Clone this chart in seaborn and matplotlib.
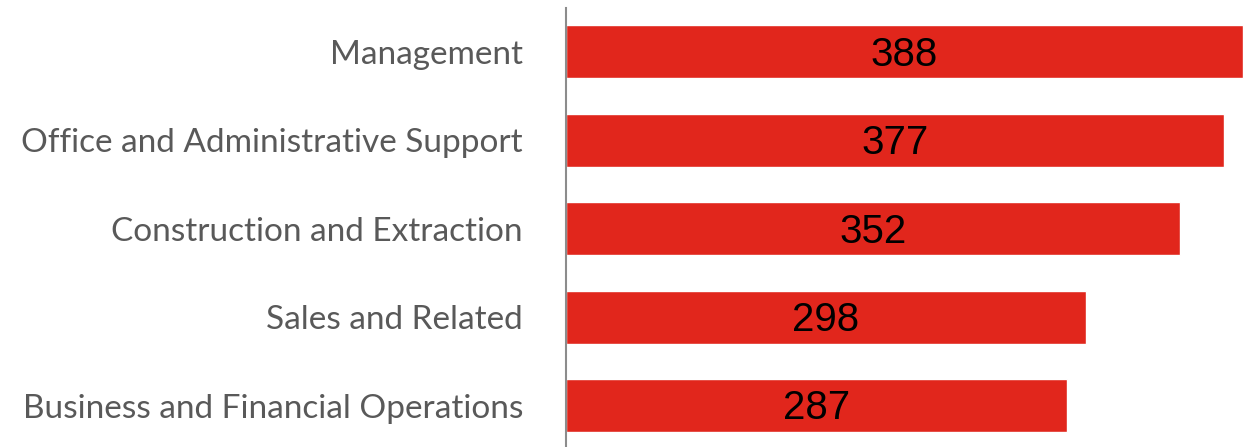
import pandas as pd
import seaborn as sns
import matplotlib.pyplot as plt

# Chart data
categories = ['Management', 'Office and Administrative Support', 'Construction and Extraction',
              'Sales and Related', 'Business and Financial Operations']
values = [388, 377, 352, 298, 287]

df = pd.DataFrame({'category': categories, 'value': values})

sns.set_style('white')
plt.rcParams['font.family'] = ['Lato', 'DejaVu Sans']

fig = plt.figure(figsize=(12.58, 4.47), dpi=100)
ax = fig.add_axes([566 / 1258, -0.0067, 1 - 566 / 1258, 0.9895])

sns.barplot(data=df, x='value', y='category', orient='h', color='#E1261C',
            width=0.6, saturation=1, ax=ax)

# Value labels centred in each bar (baseline a bit below the middle)
for i, v in enumerate(values):
    ax.text(v / 2, i + 0.155, str(v), ha='center', va='baseline', fontsize=29,
            family='Liberation Sans', color='black')

ax.set_xlim(0, 396.6)
ax.set_ylim(4.5, -0.5)
ax.set_xlabel('')
ax.set_ylabel('')
ax.set_xticks([])
ax.tick_params(axis='y', length=0, pad=31, labelsize=24, labelcolor='#595959')

for side in ['top', 'right', 'bottom']:
    ax.spines[side].set_visible(False)
ax.spines['left'].set_color('#8c8c8c')
ax.spines['left'].set_linewidth(1.5)

fig.savefig('out.png', dpi=100)
